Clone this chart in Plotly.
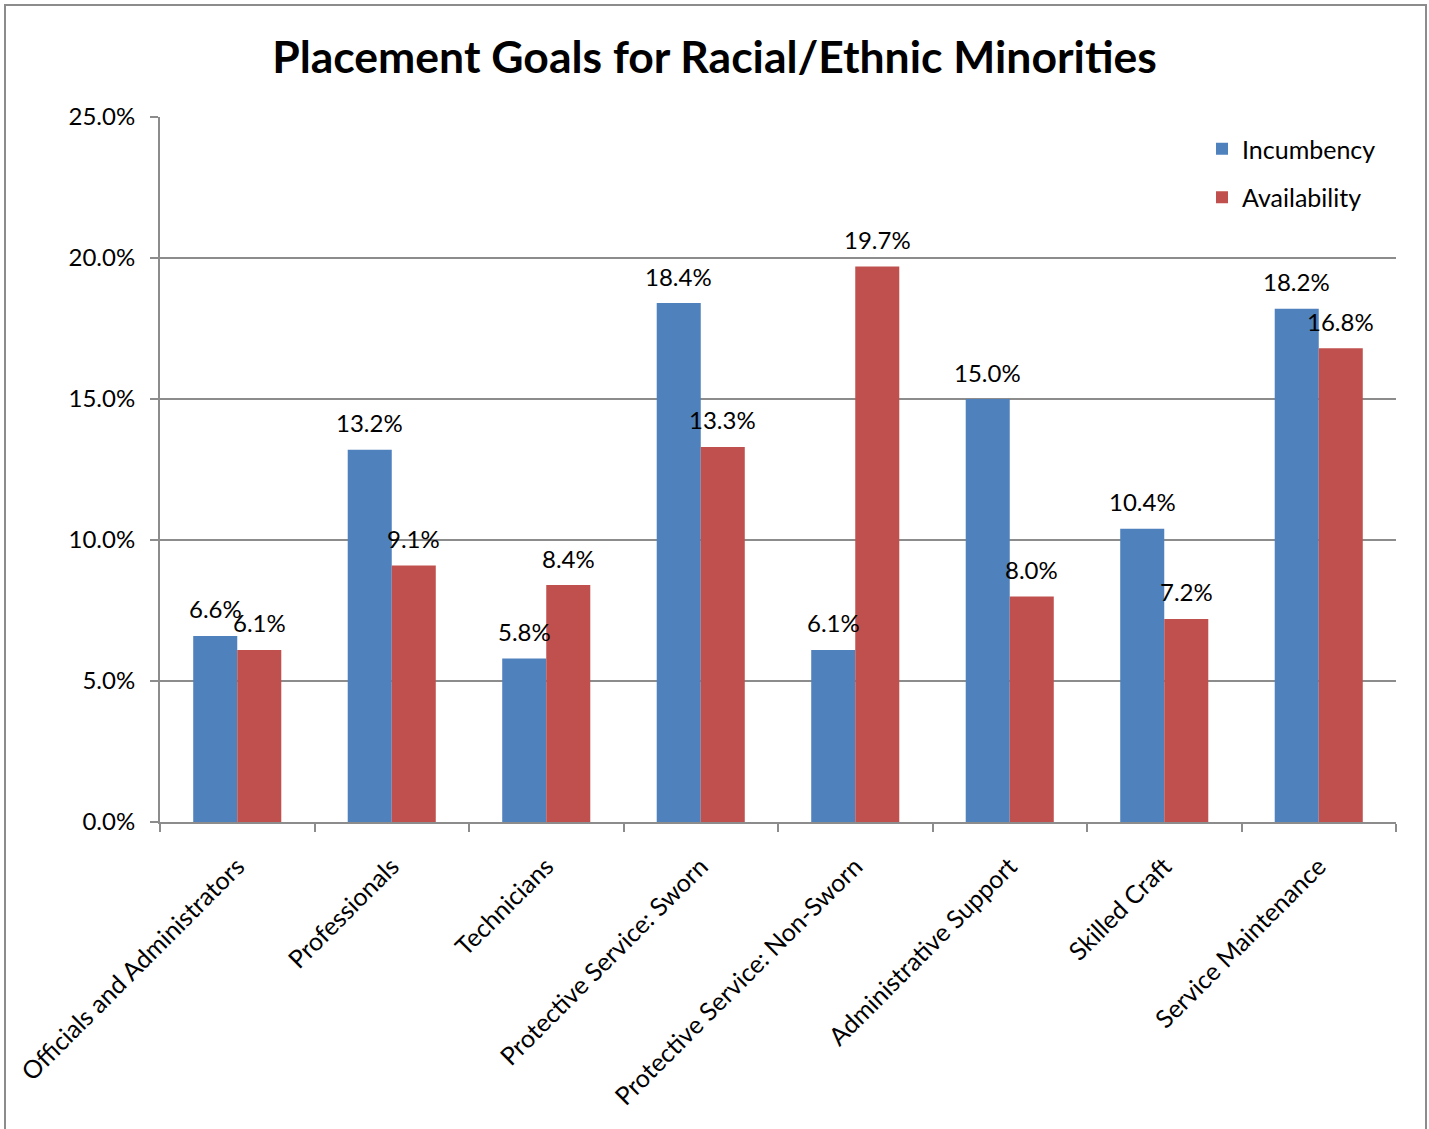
import plotly.graph_objects as go

# Job groups and placement rates (percent)
categories = [
    "Officials and Administrators",
    "Professionals",
    "Technicians",
    "Protective Service: Sworn",
    "Protective Service: Non-Sworn",
    "Administrative Support",
    "Skilled Craft",
    "Service Maintenance",
]
incumbency = [6.6, 13.2, 5.8, 18.4, 6.1, 15.0, 10.4, 18.2]
availability = [6.1, 9.1, 8.4, 13.3, 19.7, 8.0, 7.2, 16.8]
y_ticks = [0, 5, 10, 15, 20, 25]
y_tick_labels = [f"{v:.1f}%" for v in y_ticks]

FONT = "Lato"
BLUE = "#4F81BD"
RED = "#C0504D"
GRID = "#8C8C8C"

W, H = 1429, 1129
L, R, T, B = 160, 33, 117, 307
pw, ph = W - L - R, H - T - B


def px_x(p):
    return (p - L) / pw


def px_y(p):
    return (H - B - p) / ph


fig = go.Figure()
fig.add_trace(go.Bar(name="Incumbency", x=categories, y=incumbency,
                     marker=dict(color=BLUE, line=dict(width=0)),
                     legendgroup="a"))
fig.add_trace(go.Bar(name="Availability", x=categories, y=availability,
                     marker=dict(color=RED, line=dict(width=0)),
                     legendgroup="b"))

# value labels above each bar
annotations = []
for series, shift in ((incumbency, -22), (availability, 22)):
    for cat, v in zip(categories, series):
        annotations.append(dict(
            x=cat, y=v, xref="x", yref="y", text=f"{v:.1f}%",
            showarrow=False, xshift=shift, yshift=27,
            font=dict(family=FONT, size=24, color="#000000"),
            xanchor="center", yanchor="middle"))

fig.update_layout(
    width=W, height=H,
    margin=dict(l=L, r=R, t=T, b=B),
    paper_bgcolor="white", plot_bgcolor="white",
    barmode="group", bargap=0.43, bargroupgap=0,
    title=dict(text="<b>Placement Goals for Racial/Ethnic Minorities</b>",
               x=0.5, xanchor="center", y=1 - 57 / H, yanchor="middle",
               font=dict(family=FONT, size=44.5, color="#000000")),
    font=dict(family=FONT, size=24, color="#000000"),
    legend=dict(x=px_x(1202), y=px_y(126), xanchor="left", yanchor="top",
                bgcolor="rgba(0,0,0,0)", tracegroupgap=13,
                font=dict(family=FONT, size=25, color="#000000")),
    annotations=annotations,
    shapes=[dict(type="rect", xref="paper", yref="paper",
                 x0=px_x(5), x1=px_x(1426), y0=px_y(1140), y1=px_y(5),
                 line=dict(color="#8C8C8C", width=2), layer="below")],
)

fig.update_xaxes(
    type="category", tickangle=-45, tickson="boundaries",
    ticks="outside", ticklen=8, tickcolor=GRID, tickwidth=2,
    showline=True, linecolor=GRID, linewidth=2, showgrid=False,
    ticklabelstandoff=18,
    tickfont=dict(family=FONT, size=25, color="#000000"),
)
fig.update_yaxes(
    range=[0, 25], tickmode="array", tickvals=y_ticks, ticktext=y_tick_labels,
    ticks="outside", ticklen=8, tickcolor=GRID, tickwidth=2,
    showline=True, linecolor=GRID, linewidth=2,
    showgrid=True, gridcolor=GRID, gridwidth=2,
    ticklabelstandoff=10, zeroline=False,
    tickfont=dict(family=FONT, size=24, color="#000000"),
)

fig.write_html("out.html")
